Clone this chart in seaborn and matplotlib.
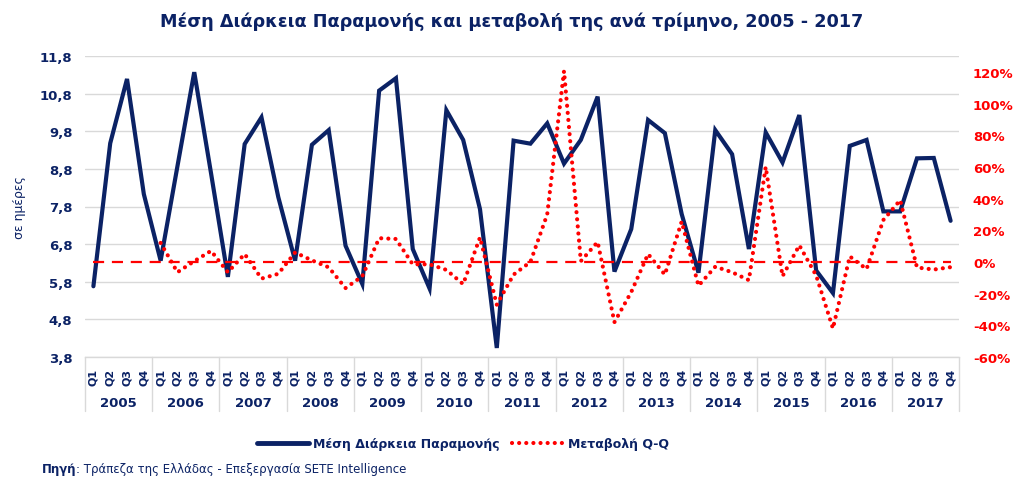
import numpy as np
import pandas as pd
import matplotlib
matplotlib.use("Agg")
import matplotlib.pyplot as plt
from matplotlib.lines import Line2D
import seaborn as sns

# ---------------- data ----------------
years = [str(y) for y in range(2005, 2018)]
quarters = ["Q1", "Q2", "Q3", "Q4"]

stay_days = [
    5.68, 9.48, 11.19, 8.13,   # 2005
    6.36, 8.87, 11.37, 8.68,   # 2006
    5.93, 9.46, 10.17, 8.05,   # 2007
    6.36, 9.44, 9.83, 6.76,    # 2008
    5.74, 10.88, 11.21, 6.67,  # 2009
    5.62, 10.36, 9.57, 7.73,   # 2010
    4.04, 9.55, 9.47, 10.01,   # 2011
    8.94, 9.57, 10.72, 6.07,   # 2012
    7.20, 10.10, 9.75, 7.60,   # 2013
    6.04, 9.83, 9.19, 6.67,    # 2014
    9.77, 8.97, 10.23, 6.10,   # 2015
    5.50, 9.41, 9.57, 7.67,    # 2016
    7.67, 9.08, 9.09, 7.42,    # 2017
]

change_pct = [
    np.nan, np.nan, np.nan, np.nan,  # 2005
    12.0, -6.5, 0.5, 7.0,            # 2006
    -6.5, 5.0, -10.5, -7.5,          # 2007
    6.0, 1.0, -3.4, -16.5,           # 2008
    -9.0, 15.0, 14.5, -1.5,          # 2009
    -1.5, -5.0, -14.0, 15.5,         # 2010
    -27.0, -8.0, 0.0, 30.0,          # 2011
    120.5, 0.5, 12.6, -38.0,         # 2012
    -19.0, 5.0, -8.0, 25.5,          # 2013
    -15.0, -3.0, -6.5, -11.5,        # 2014
    60.0, -9.0, 10.5, -8.5,          # 2015
    -42.0, 3.5, -4.5, 26.5,          # 2016
    39.0, -3.5, -4.8, -3.3,          # 2017
]

left_ticks = [3.8, 4.8, 5.8, 6.8, 7.8, 8.8, 9.8, 10.8, 11.8]
right_ticks = [-60, -40, -20, 0, 20, 40, 60, 80, 100, 120]

title = "Μέση Διάρκεια Παραμονής και μεταβολή της ανά τρίμηνο, 2005 - 2017"
series1_name = "Μέση Διάρκεια Παραμονής"
series2_name = "Μεταβολή Q-Q"
ylabel = "σε ημέρες"
source_bold = "Πηγή"
source_rest = ": Τράπεζα της Ελλάδας - Επεξεργασία SETE Intelligence"

# ---------------- style ----------------
NAVY = "#0B2265"
RED = "#FF0000"
GRID = "#D9D9D9"

sns.set_style("white")
plt.rcParams["font.family"] = ["DejaVu Sans"]

n = len(stay_days)
labels_q = [q for _ in years for q in quarters]
df = pd.DataFrame({"idx": np.arange(n), "stay": stay_days, "chg": change_pct})

fig = plt.figure(figsize=(10.24, 4.89), dpi=100)
ax = fig.add_axes([85 / 1024, 1 - 358 / 489, 874 / 1024, 301 / 489])

sns.lineplot(data=df, x="idx", y="stay", ax=ax, color=NAVY, linewidth=3.0,
             legend=False, solid_joinstyle="miter")
ax.set_xlim(-0.5, n - 0.5)
ax.set_ylim(3.8, 11.8)
ax.set_yticks(left_ticks)
ax.set_yticklabels([f"{t:.1f}".replace(".", ",") for t in left_ticks],
                   fontsize=9.5, fontweight="bold", color=NAVY)
ax.yaxis.grid(True, color=GRID, linewidth=1.0)
ax.set_axisbelow(True)
ax.tick_params(axis="y", length=0, pad=9)
ax.set_ylabel(ylabel, fontsize=9, color=NAVY, labelpad=10)
ax.set_xlabel("")

ax.set_xticks(np.arange(n))
ax.set_xticklabels(labels_q, rotation=90, fontsize=8, fontweight="bold", color=NAVY)
ax.tick_params(axis="x", length=0, pad=8)

for s in ["top", "left", "right"]:
    ax.spines[s].set_visible(False)
ax.spines["bottom"].set_color(GRID)
ax.spines["bottom"].set_linewidth(1.0)

# year labels and separators
trans = ax.get_xaxis_transform()
for k, yr in enumerate(years):
    center = k * 4 + 1.5
    ax.text(center, -46 / 301, yr, transform=trans, ha="center", va="center",
            fontsize=9.5, fontweight="bold", color=NAVY)
for k in range(len(years) + 1):
    b = k * 4 - 0.5
    ax.plot([b, b], [0, -54 / 301], transform=trans, color=GRID, linewidth=1.0,
            clip_on=False)

# secondary axis
ax2 = ax.twinx()
sns.lineplot(data=df, x="idx", y="chg", ax=ax2, color=RED, linewidth=3.0,
             linestyle=(0, (0.01, 1.7)), dash_capstyle="round", legend=False)
ax2.hlines(0, df["idx"].iloc[0], df["idx"].iloc[-1], colors=RED, linewidth=1.6,
           linestyles=[(0, (5, 3.5))])
ax2.set_ylim(-60, 130)
ax2.set_xlim(-0.5, n - 0.5)
ax2.set_yticks(right_ticks)
ax2.set_yticklabels([f"{t}%" for t in right_ticks], fontsize=9.5,
                    fontweight="bold", color=RED)
ax2.tick_params(axis="y", length=0, pad=10)
ax2.set_ylabel("")
for s in ["top", "left", "right", "bottom"]:
    ax2.spines[s].set_visible(False)

# title
fig.text(512 / 1024, 1 - 22 / 489, title, ha="center", va="center",
         fontsize=12.7, fontweight="bold", color=NAVY)

# legend
handles = [
    Line2D([], [], color=NAVY, linewidth=3.5, solid_capstyle="round"),
    Line2D([], [], color=RED, linewidth=3.0, linestyle=(0, (0.01, 1.7)),
           dash_capstyle="round"),
]
leg = fig.legend(handles, [series1_name, series2_name], loc="center",
                 bbox_to_anchor=(463 / 1024, 1 - 445 / 489), ncol=2, frameon=False,
                 handlelength=4.2, handletextpad=0.3, columnspacing=1.0,
                 prop={"size": 9, "weight": "bold"})
for t in leg.get_texts():
    t.set_color(NAVY)

# source
t1 = fig.text(42 / 1024, 1 - 470 / 489, source_bold, ha="left", va="center",
              fontsize=8.5, fontweight="bold", color=NAVY)
fig.canvas.draw()
bb = t1.get_window_extent()
fig.text(bb.x1 / fig.bbox.width, 1 - 470 / 489, source_rest, ha="left",
         va="center", fontsize=8.5, color=NAVY)

fig.savefig("out.png", dpi=100, facecolor="white")
